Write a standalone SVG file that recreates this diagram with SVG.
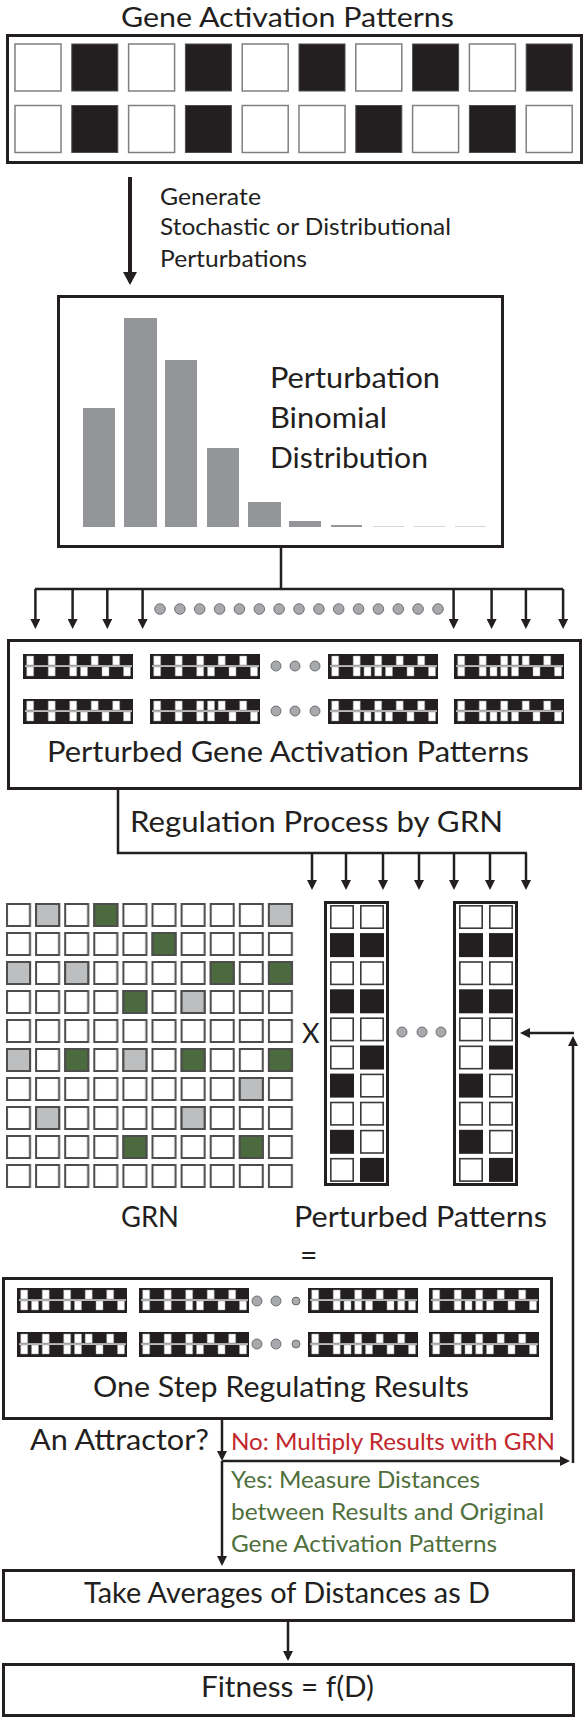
<svg xmlns="http://www.w3.org/2000/svg" xmlns:xlink="http://www.w3.org/1999/xlink" width="584" height="1718" viewBox="0 0 584 1718">
<style>
.bx{fill:#fff;stroke:#231f20;stroke-width:3}
.cw{fill:#fff;stroke:#808080;stroke-width:1.5}
.cb{fill:#231f20;stroke:#4d4d4d;stroke-width:1}
.bar{fill:#939598}
.ln{fill:none;stroke:#231f20;stroke-width:2.5}
.ar{marker-end:url(#ah)}
.t{font-family:Lato,"Open Sans","Liberation Sans",sans-serif;fill:#231f20}
.big{font-size:29.5px}
.sm{font-size:24px}
.red{fill:#c1272d}
.grn{fill:#4f6f3c}
.gc{stroke:#4d4d4d;stroke-width:2}
.gy{fill:#bcbec0}
.gn{fill:#4b6a3e}
.dot{fill:#a7a9ac;stroke:#58595b;stroke-width:0.8}
.mw{fill:#fff;stroke:#9a9a9a;stroke-width:0.5}
.pw{fill:#fff;stroke:#3a3a3a;stroke-width:1.6}
.pb{fill:#231f20}
</style>
<defs>
<marker id="ah" viewBox="0 0 10 10" refX="7" refY="5" markerWidth="10" markerHeight="10" markerUnits="userSpaceOnUse" orient="auto"><path d="M0,0 L10,5 L0,10 z" fill="#231f20"/></marker>
<marker id="ahb" viewBox="0 0 13 14" refX="10" refY="7" markerWidth="13" markerHeight="14" markerUnits="userSpaceOnUse" orient="auto"><path d="M0,0 L13,7 L0,14 z" fill="#231f20"/></marker>
<pattern id="gridp" x="6" y="903" width="29.1" height="29" patternUnits="userSpaceOnUse"><rect x="1" y="1" width="23" height="22" fill="#fff" stroke="#4d4d4d" stroke-width="2"/></pattern>
<g id="mbg"><rect width="110" height="25" fill="#231f20"/><rect x="2" y="11.4" width="107" height="1.3" fill="#fff"/></g>
<path id="t0" class="mw" d="M3.7 2h7v9h-7zM25.2 2h7v9h-7zM46.7 2h7v9h-7zM68.2 2h7v9h-7zM89.7 2h7v9h-7z"/>
<path id="t1" class="mw" d="M3.7 2h7v9h-7zM25.2 2h7v9h-7zM46.7 2h7v9h-7zM57.5 2h7v9h-7zM68.2 2h7v9h-7zM89.7 2h7v9h-7z"/>
<path id="b0" class="mw" d="M3.7 13h7v9h-7zM25.2 13h7v9h-7zM46.7 13h7v9h-7zM57.5 13h7v9h-7zM79 13h7v9h-7zM100.5 13h7v9h-7z"/>
<path id="b1" class="mw" d="M3.7 13h7v9h-7zM25.2 13h7v9h-7zM36 13h7v9h-7zM46.7 13h7v9h-7zM57.5 13h7v9h-7zM79 13h7v9h-7zM100.5 13h7v9h-7z"/>
<path id="b2" class="mw" d="M3.7 13h7v9h-7zM25.2 13h7v9h-7zM36 13h7v9h-7zM46.7 13h7v9h-7zM57.5 13h7v9h-7zM79 13h7v9h-7zM89.7 13h7v9h-7zM100.5 13h7v9h-7z"/>
<path id="b3" class="mw" d="M3.7 13h7v9h-7zM14.5 13h7v9h-7zM25.2 13h7v9h-7zM46.7 13h7v9h-7zM57.5 13h7v9h-7zM79 13h7v9h-7zM100.5 13h7v9h-7z"/>
<g id="pcol">
<rect class="bx" x="1.5" y="1.5" width="62" height="282"/>
<rect class="pw" x="6.8" y="4.8" width="22.4" height="22.4"/><rect class="pw" x="36.8" y="4.8" width="22.4" height="22.4"/>
<rect class="pb" x="6" y="32.1" width="24" height="24"/><rect class="pb" x="36" y="32.1" width="24" height="24"/>
<rect class="pw" x="6.8" y="61" width="22.4" height="22.4"/><rect class="pw" x="36.8" y="61" width="22.4" height="22.4"/>
<rect class="pb" x="6" y="88.3" width="24" height="24"/><rect class="pb" x="36" y="88.3" width="24" height="24"/>
<rect class="pw" x="6.8" y="117.2" width="22.4" height="22.4"/><rect class="pw" x="36.8" y="117.2" width="22.4" height="22.4"/>
<rect class="pw" x="6.8" y="145.3" width="22.4" height="22.4"/><rect class="pb" x="36" y="144.5" width="24" height="24"/>
<rect class="pb" x="6" y="172.6" width="24" height="24"/><rect class="pw" x="36.8" y="173.4" width="22.4" height="22.4"/>
<rect class="pw" x="6.8" y="201.5" width="22.4" height="22.4"/><rect class="pw" x="36.8" y="201.5" width="22.4" height="22.4"/>
<rect class="pb" x="6" y="228.8" width="24" height="24"/><rect class="pw" x="36.8" y="229.6" width="22.4" height="22.4"/>
<rect class="pw" x="6.8" y="257.7" width="22.4" height="22.4"/><rect class="pb" x="36" y="256.9" width="24" height="24"/>
</g>
</defs>
<rect width="584" height="1718" fill="#fff"/>

<g id="title">
<text class="t" x="121" y="27" font-size="27" textLength="333" lengthAdjust="spacingAndGlyphs">Gene Activation Patterns</text>
</g>

<g id="gene-patterns">
<rect class="bx" x="7.5" y="35.5" width="574" height="127"/>
<rect class="cw" x="15" y="44" width="46" height="47"/>
<rect class="cb" x="71.8" y="44" width="46" height="47"/>
<rect class="cw" x="128.6" y="44" width="46" height="47"/>
<rect class="cb" x="185.4" y="44" width="46" height="47"/>
<rect class="cw" x="242.2" y="44" width="46" height="47"/>
<rect class="cb" x="299" y="44" width="46" height="47"/>
<rect class="cw" x="355.8" y="44" width="46" height="47"/>
<rect class="cb" x="412.6" y="44" width="46" height="47"/>
<rect class="cw" x="469.4" y="44" width="46" height="47"/>
<rect class="cb" x="526.2" y="44" width="46" height="47"/>
<rect class="cw" x="15" y="105.5" width="46" height="47"/>
<rect class="cb" x="71.8" y="105.5" width="46" height="47"/>
<rect class="cw" x="128.6" y="105.5" width="46" height="47"/>
<rect class="cb" x="185.4" y="105.5" width="46" height="47"/>
<rect class="cw" x="242.2" y="105.5" width="46" height="47"/>
<rect class="cw" x="299" y="105.5" width="46" height="47"/>
<rect class="cb" x="355.8" y="105.5" width="46" height="47"/>
<rect class="cw" x="412.6" y="105.5" width="46" height="47"/>
<rect class="cb" x="469.4" y="105.5" width="46" height="47"/>
<rect class="cw" x="526.2" y="105.5" width="46" height="47"/>
</g>

<g id="generate-label">
<text class="t sm" x="160" y="205" textLength="101" lengthAdjust="spacingAndGlyphs">Generate</text>
<text class="t sm" x="160" y="235" textLength="291" lengthAdjust="spacingAndGlyphs">Stochastic or Distributional</text>
<text class="t sm" x="160" y="267" textLength="147" lengthAdjust="spacingAndGlyphs">Perturbations</text>
</g>

<g id="histogram">
<rect class="bx" x="58.5" y="296.5" width="444" height="250"/>
<rect class="bar" x="83" y="408" width="32" height="119"/>
<rect class="bar" x="124" y="318" width="33" height="209"/>
<rect class="bar" x="165" y="360" width="32" height="167"/>
<rect class="bar" x="207" y="448" width="32" height="79"/>
<rect class="bar" x="248" y="502" width="33" height="25"/>
<rect class="bar" x="289" y="521" width="32" height="6"/>
<rect class="bar" x="331" y="525" width="31" height="2"/>
<rect x="373" y="526" width="31" height="1" fill="#d4d5d6"/>
<rect x="414" y="526" width="31" height="1" fill="#d4d5d6"/>
<rect x="455" y="526" width="31" height="1" fill="#d4d5d6"/>
<text class="t big" x="270" y="388" textLength="170" lengthAdjust="spacingAndGlyphs">Perturbation</text>
<text class="t big" x="270" y="428" textLength="117" lengthAdjust="spacingAndGlyphs">Binomial</text>
<text class="t big" x="270" y="468" textLength="158" lengthAdjust="spacingAndGlyphs">Distribution</text>
</g>

<g id="perturbed-box">
<rect class="bx" x="8.5" y="640.5" width="572" height="148"/>
<g transform="translate(23,654)"><use href="#mbg"/><use href="#t0"/><use href="#b0"/></g>
<g transform="translate(150,654)"><use href="#mbg"/><use href="#t0"/><use href="#b0"/></g>
<g transform="translate(328,654)"><use href="#mbg"/><use href="#t0"/><use href="#b1"/></g>
<g transform="translate(454,654)"><use href="#mbg"/><use href="#t1"/><use href="#b1"/></g>
<g transform="translate(23,699)"><use href="#mbg"/><use href="#t0"/><use href="#b0"/></g>
<g transform="translate(150,699)"><use href="#mbg"/><use href="#t1"/><use href="#b0"/></g>
<g transform="translate(328,699)"><use href="#mbg"/><use href="#t0"/><use href="#b1"/></g>
<g transform="translate(454,699)"><use href="#mbg"/><use href="#t0"/><use href="#b1"/></g>
<circle class="dot" cx="276" cy="666" r="5"/><circle class="dot" cx="295" cy="666" r="5"/><circle class="dot" cx="315" cy="666" r="5"/>
<circle class="dot" cx="276" cy="711" r="5"/><circle class="dot" cx="295" cy="711" r="5"/><circle class="dot" cx="315" cy="711" r="5"/>
<text class="t big" x="47" y="762" textLength="482" lengthAdjust="spacingAndGlyphs">Perturbed Gene Activation Patterns</text>
</g>

<g id="regulation-label">
<text class="t big" x="130" y="832" textLength="373" lengthAdjust="spacingAndGlyphs">Regulation Process by GRN</text>
</g>

<g id="grn">
<rect x="5" y="902" width="290" height="288" fill="url(#gridp)"/>
<rect class="gc gy" x="36.1" y="904" width="23" height="22"/>
<rect class="gc gy" x="268.9" y="904" width="23" height="22"/>
<rect class="gc gy" x="7" y="962" width="23" height="22"/>
<rect class="gc gy" x="65.2" y="962" width="23" height="22"/>
<rect class="gc gy" x="181.6" y="991" width="23" height="22"/>
<rect class="gc gy" x="7" y="1049" width="23" height="22"/>
<rect class="gc gy" x="123.4" y="1049" width="23" height="22"/>
<rect class="gc gy" x="239.8" y="1078" width="23" height="22"/>
<rect class="gc gy" x="36.1" y="1107" width="23" height="22"/>
<rect class="gc gy" x="181.6" y="1107" width="23" height="22"/>
<rect class="gc gn" x="94.3" y="904" width="23" height="22"/>
<rect class="gc gn" x="152.5" y="933" width="23" height="22"/>
<rect class="gc gn" x="210.7" y="962" width="23" height="22"/>
<rect class="gc gn" x="268.9" y="962" width="23" height="22"/>
<rect class="gc gn" x="123.4" y="991" width="23" height="22"/>
<rect class="gc gn" x="65.2" y="1049" width="23" height="22"/>
<rect class="gc gn" x="181.6" y="1049" width="23" height="22"/>
<rect class="gc gn" x="268.9" y="1049" width="23" height="22"/>
<rect class="gc gn" x="123.4" y="1136" width="23" height="22"/>
<rect class="gc gn" x="239.8" y="1136" width="23" height="22"/>
<text class="t big" x="121" y="1227" textLength="58" lengthAdjust="spacingAndGlyphs">GRN</text>
</g>

<g id="times">
<text class="t" x="302" y="1043" font-size="27">X</text>
</g>

<g id="perturbed-patterns">
<use href="#pcol" transform="translate(324,901)"/>
<use href="#pcol" transform="translate(453,901)"/>
<circle class="dot" cx="402" cy="1032" r="5"/><circle class="dot" cx="422" cy="1032" r="5"/><circle class="dot" cx="441" cy="1032" r="5"/>
<text class="t big" x="294" y="1227" textLength="253" lengthAdjust="spacingAndGlyphs">Perturbed Patterns</text>
</g>

<g id="equals">
<text class="t" x="300" y="1266" font-size="30">=</text>
</g>

<g id="results-box">
<rect class="bx" x="3.5" y="1278.5" width="548" height="140"/>
<g transform="translate(17,1288)"><use href="#mbg"/><use href="#t0"/><use href="#b3"/></g>
<g transform="translate(139,1288)"><use href="#mbg"/><use href="#t0"/><use href="#b0"/></g>
<g transform="translate(308,1288)"><use href="#mbg"/><use href="#t0"/><use href="#b2"/></g>
<g transform="translate(429,1288)"><use href="#mbg"/><use href="#t0"/><use href="#b1"/></g>
<g transform="translate(17,1332)"><use href="#mbg"/><use href="#t1"/><use href="#b3"/></g>
<g transform="translate(139,1332)"><use href="#mbg"/><use href="#t0"/><use href="#b0"/></g>
<g transform="translate(308,1332)"><use href="#mbg"/><use href="#t0"/><use href="#b1"/></g>
<g transform="translate(429,1332)"><use href="#mbg"/><use href="#t0"/><use href="#b1"/></g>
<circle class="dot" cx="257" cy="1301" r="5"/><circle class="dot" cx="276" cy="1301" r="5"/><circle class="dot" cx="296" cy="1301" r="4"/>
<circle class="dot" cx="257" cy="1344" r="5"/><circle class="dot" cx="276" cy="1344" r="5"/><circle class="dot" cx="296" cy="1344" r="4"/>
<text class="t big" x="93" y="1397" textLength="376" lengthAdjust="spacingAndGlyphs">One Step Regulating Results</text>
</g>

<g id="attractor-labels">
<text class="t big" x="30" y="1450" textLength="179" lengthAdjust="spacingAndGlyphs">An Attractor?</text>
<text class="t sm red" x="231" y="1450" textLength="324" lengthAdjust="spacingAndGlyphs">No: Multiply Results with GRN</text>
<text class="t sm grn" x="231" y="1488" textLength="249" lengthAdjust="spacingAndGlyphs">Yes: Measure Distances</text>
<text class="t sm grn" x="231" y="1520" textLength="313" lengthAdjust="spacingAndGlyphs">between Results and Original</text>
<text class="t sm grn" x="231" y="1552" textLength="266" lengthAdjust="spacingAndGlyphs">Gene Activation Patterns</text>
</g>

<g id="averages-box">
<rect class="bx" x="3.5" y="1570.5" width="570" height="50"/>
<text class="t big" x="84" y="1603" textLength="406" lengthAdjust="spacingAndGlyphs">Take Averages of Distances as D</text>
</g>

<g id="fitness-box">
<rect class="bx" x="3.5" y="1664.5" width="570" height="51"/>
<text class="t big" x="201" y="1697" textLength="173" lengthAdjust="spacingAndGlyphs">Fitness = f(D)</text>
</g>

<g id="connectors">
<path d="M130 177 V282" fill="none" stroke="#231f20" stroke-width="4" marker-end="url(#ahb)"/>
<path class="ln" d="M281 547 V589 M35 589 H563"/>
<path class="ln ar" d="M35.4 589 V626"/>
<path class="ln ar" d="M72.6 589 V626"/>
<path class="ln ar" d="M107.3 589 V626"/>
<path class="ln ar" d="M142.6 589 V626"/>
<path class="ln ar" d="M453.6 589 V626"/>
<path class="ln ar" d="M491.6 589 V626"/>
<path class="ln ar" d="M525.9 589 V626"/>
<path class="ln ar" d="M563.1 589 V626"/>
<g>
<circle class="dot" cx="160" cy="609" r="5.3"/><circle class="dot" cx="179.9" cy="609" r="5.3"/><circle class="dot" cx="199.7" cy="609" r="5.3"/><circle class="dot" cx="219.6" cy="609" r="5.3"/><circle class="dot" cx="239.4" cy="609" r="5.3"/><circle class="dot" cx="259.3" cy="609" r="5.3"/><circle class="dot" cx="279.1" cy="609" r="5.3"/><circle class="dot" cx="299" cy="609" r="5.3"/><circle class="dot" cx="318.9" cy="609" r="5.3"/><circle class="dot" cx="338.7" cy="609" r="5.3"/><circle class="dot" cx="358.6" cy="609" r="5.3"/><circle class="dot" cx="378.4" cy="609" r="5.3"/><circle class="dot" cx="398.3" cy="609" r="5.3"/><circle class="dot" cx="418.1" cy="609" r="5.3"/><circle class="dot" cx="438" cy="609" r="5.3"/>
</g>
<path class="ln" d="M118 790 V853 H527"/>
<path class="ln ar" d="M312 853 V887"/>
<path class="ln ar" d="M346 853 V887"/>
<path class="ln ar" d="M383 853 V887"/>
<path class="ln ar" d="M419 853 V887"/>
<path class="ln ar" d="M454 853 V887"/>
<path class="ln ar" d="M490 853 V887"/>
<path class="ln ar" d="M526 853 V887"/>
<path class="ln ar" d="M222 1420 V1458"/>
<path class="ln ar" d="M222 1461 H567"/>
<path class="ln ar" d="M573 1463 V1039"/>
<path class="ln ar" d="M574 1033 H523"/>
<path class="ln ar" d="M222 1461 V1563"/>
<path class="ln ar" d="M288 1622 V1658"/>
</g>
</svg>
